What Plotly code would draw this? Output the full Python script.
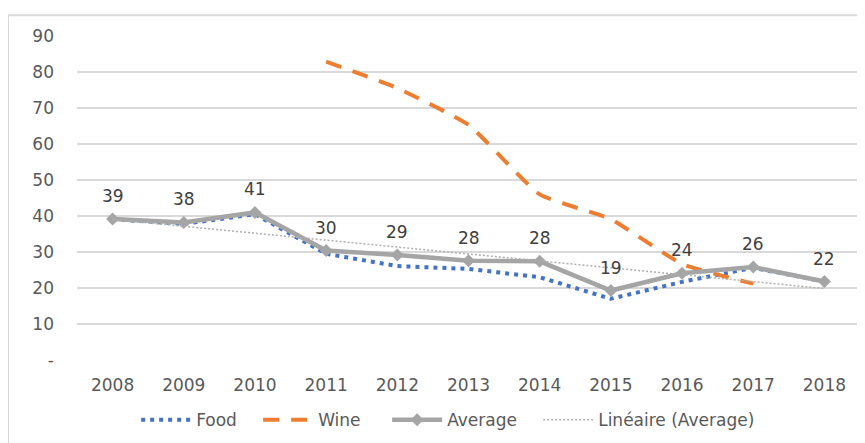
import numpy as np
import plotly.graph_objects as go

years = ["2008", "2009", "2010", "2011", "2012", "2013", "2014", "2015", "2016", "2017", "2018"]
food = [39.1, 37.8, 40.5, 29.5, 26.1, 25.3, 23.0, 17.0, 21.7, 25.6, 21.8]
wine = [None, None, None, 82.9, 75.5, 65.3, 46.0, 39.1, 26.7, 21.2, None]
average = [39.2, 38.2, 41.0, 30.4, 29.2, 27.6, 27.4, 19.3, 24.1, 25.8, 21.8]
avg_labels = ["39", "38", "41", "30", "29", "28", "28", "19", "24", "26", "22"]
y_ticks = [0, 10, 20, 30, 40, 50, 60, 70, 80, 90]
y_ticktext = ["-", "10", "20", "30", "40", "50", "60", "70", "80", "90"]
series_names = ["Food", "Wine", "Average", "Linéaire (Average)"]

# linear trendline of Average (as Excel's "Linéaire (Average)")
idx = np.arange(1, len(years) + 1)
slope, intercept = np.polyfit(idx, np.array(average), 1)
trend = [float(v) for v in (slope * idx + intercept)]

FONT = "DejaVu Sans"
FS = 17
TXT = "#595959"
NB = "\u00a0"
pad = [3, 4, 3, 0]  # legend spacing padding (non-breaking spaces)
legend_names = [n + NB * p for n, p in zip(series_names, pad)]

fig = go.Figure()
fig.add_trace(go.Scatter(
    x=years, y=food, name=legend_names[0], mode="lines",
    line=dict(color="#4472C4", width=4, dash="4px,5px"),
))
fig.add_trace(go.Scatter(
    x=years, y=wine, name=legend_names[1], mode="lines",
    line=dict(color="#ED7D31", width=4, dash="16px,12px", shape="spline", smoothing=0.45),
    connectgaps=False,
))
fig.add_trace(go.Scatter(
    x=years, y=average, name=legend_names[2], mode="lines+markers",
    line=dict(color="#A5A5A5", width=4.5),
    marker=dict(symbol="diamond", size=10, color="#A5A5A5"),
))
fig.add_trace(go.Scatter(
    x=years, y=trend, name=legend_names[3], mode="lines",
    line=dict(color="#AFAFAF", width=1.5, dash="2px,2px"),
))

for i, (v, lab) in enumerate(zip(average, avg_labels)):
    fig.add_annotation(x=i, y=v, text=lab, showarrow=False, yshift=23,
                       font=dict(family=FONT, size=FS, color="#404040"))

fig.add_shape(type="rect", xref="paper", yref="paper",
              x0=-0.0881, x1=1.05, y0=-0.4, y1=1.064,
              line=dict(color="#D9D9D9", width=2), fillcolor="rgba(0,0,0,0)", layer="below")

# page body has an 8px default margin, so the figure is 8px smaller than the window
fig.update_layout(
    width=857, height=435,
    margin=dict(l=69, r=5, t=28, b=81),
    paper_bgcolor="white", plot_bgcolor="white",
    font=dict(family=FONT, size=FS, color=TXT),
    showlegend=True,
    legend=dict(orientation="h", x=0.474, xanchor="center", y=-0.186, yanchor="middle",
                itemwidth=50,
                font=dict(family=FONT, size=FS, color=TXT), bgcolor="rgba(0,0,0,0)"),
    xaxis=dict(type="category", range=[-0.5, len(years) - 0.5], showgrid=False, showline=False,
               zeroline=False, ticks="", ticklabelstandoff=13,
               tickfont=dict(family=FONT, size=FS, color=TXT)),
    yaxis=dict(range=[0, 90], tickvals=y_ticks, ticktext=y_ticktext, showgrid=True,
               gridcolor="#D9D9D9", gridwidth=1.5, zeroline=False, showline=False,
               ticks="", ticklabelstandoff=22, tickfont=dict(family=FONT, size=FS, color=TXT)),
)

fig.write_html("out.html")
